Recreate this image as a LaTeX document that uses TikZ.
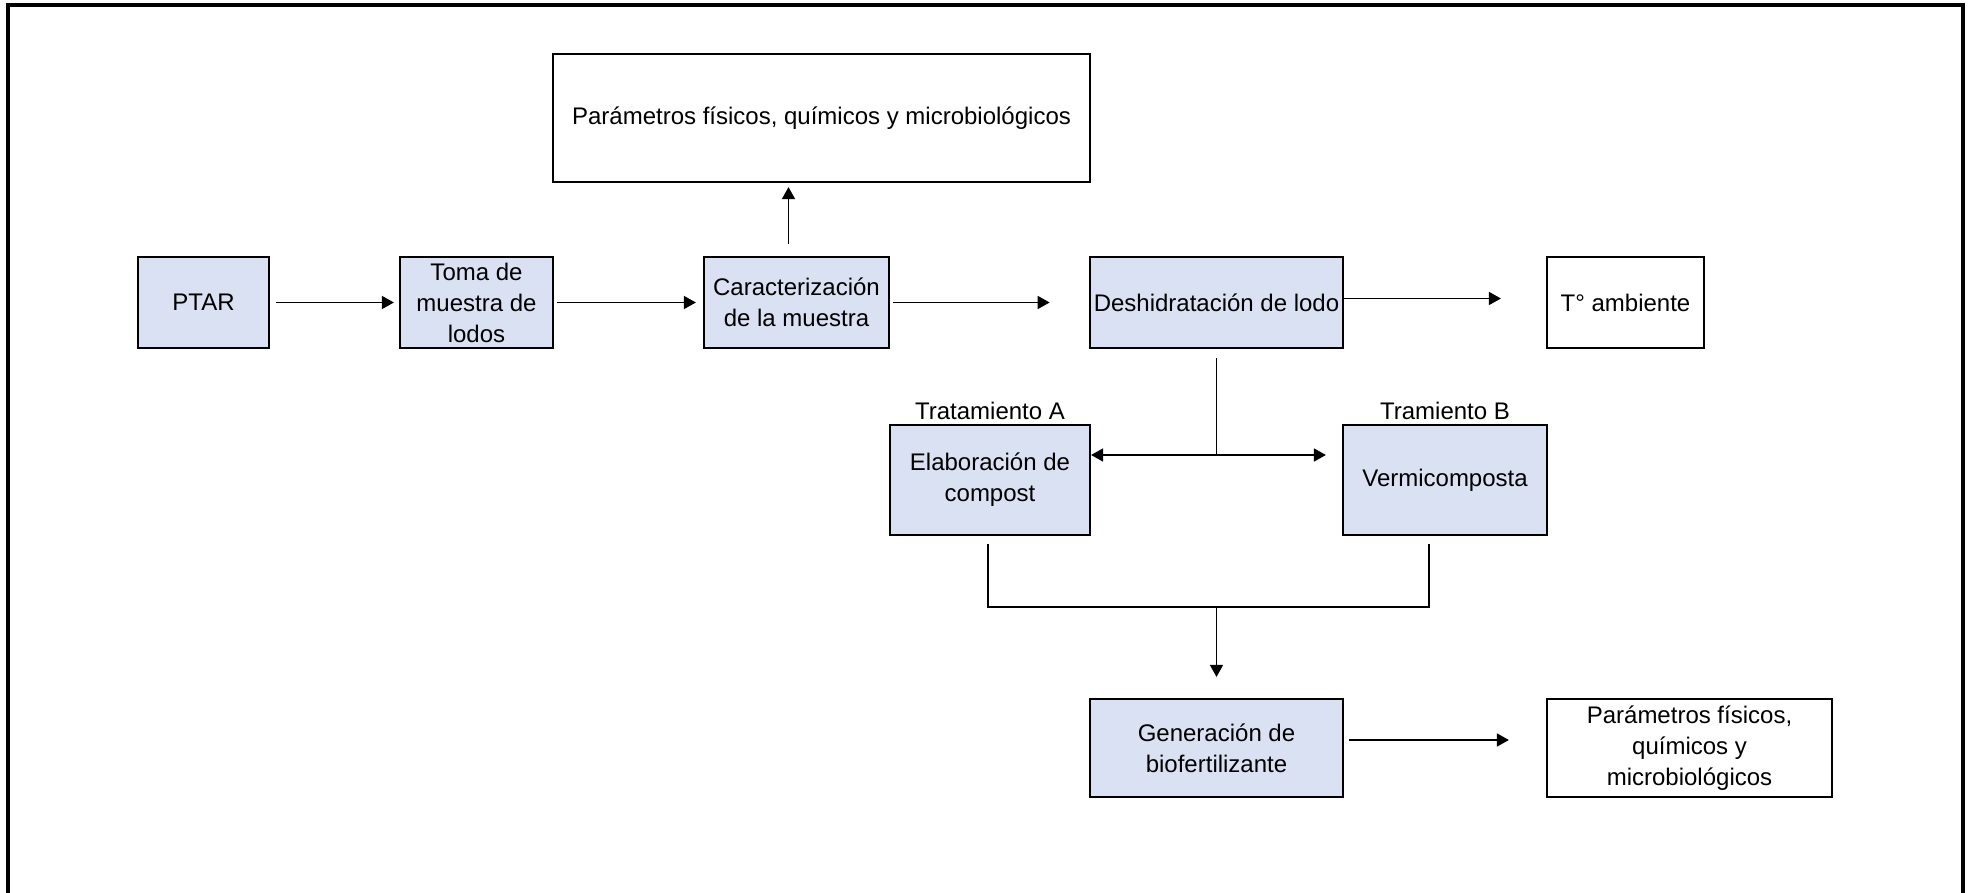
\documentclass[tikz,border=0pt]{standalone}
\usepackage{fontspec}
\setmainfont{Liberation Sans}
\usetikzlibrary{positioning,arrows.meta}
\definecolor{boxblue}{RGB}{218,225,242}

\begin{document}
\begin{tikzpicture}[
        x=0.5pt, y=-0.5pt,
        >={Triangle[length=6pt,width=6.5pt]},
        every node/.style={font=\fontsize{12}{15.5}\selectfont, align=center},
        stage/.style={draw, line width=1.1pt, fill=boxblue, inner sep=2pt},
        result/.style={draw, line width=1.1pt, fill=white, inner sep=2pt},
        flow/.style={->, line width=0.8pt},
        link/.style={line width=0.8pt},
      ]
      \useasboundingbox (0,0) rectangle (1972,893);
      % Frame
      \draw[line width=1.6pt] (8,893) -- (8,5) -- (1963,5) -- (1963,893);

      % Top row
      \node[stage, minimum width=65.5pt, minimum height=45.5pt] (ptar) at (203.5,302.5) {PTAR};
      \node[stage, minimum width=76.5pt, minimum height=45.5pt] (toma) at (476.5,302.5) {Toma de\\muestra de\\lodos};
      \node[stage, minimum width=92.5pt, minimum height=45.5pt] (caract) at (796.5,302.5) {Caracterización\\de la muestra};
      \node[stage, minimum width=126.5pt, minimum height=45.5pt] (deshid) at (1216.5,302.5) {Deshidratación de lodo};
      \node[result, minimum width=78.5pt, minimum height=45.5pt] (tamb) at (1625.5,302.5) {T° ambiente};
      \node[result, minimum width=268.5pt, minimum height=64pt] (partop) at (821.5,118) {Parámetros físicos, químicos y microbiológicos};

      % Treatments
      \node[stage, minimum width=100pt, minimum height=55pt] (elab) at (990,480) {Elaboración de\\compost};
      \node[stage, minimum width=102pt, minimum height=55pt] (verm) at (1445,480) {Vermicomposta};
      \node[above=1pt of elab, inner sep=1pt] (tratA) {Tratamiento A};
      \node[above=1pt of verm, inner sep=1pt] (tratB) {Tramiento B};

      % Bottom row
      \node[stage, minimum width=126.5pt, minimum height=49pt] (gen) at (1216.5,748) {Generación de\\biofertilizante};
      \node[result, minimum width=142.5pt, minimum height=49pt] (parbot) at (1689.5,748) {Parámetros físicos,\\químicos y\\microbiológicos};

      \coordinate (split) at (1216.5,455);
      \coordinate (join) at (1218,607);

      % Connectors
      \draw[flow, shorten <=3pt, shorten >=2.5pt] (ptar) -- (toma);
      \draw[flow, shorten <=1.5pt, shorten >=3.5pt] (toma) -- (caract);
      \draw[flow, shorten <=1.5pt, shorten >=19.5pt] (caract) -- (deshid);
      \draw[flow, shorten >=22.5pt] ([yshift=2pt]deshid.east) -- ([yshift=2pt]tamb.west);
      \draw[flow, shorten <=6pt, shorten >=2pt] ([xshift=-4pt]caract.north) -- ([xshift=-4pt]caract.north |- partop.south);
      \draw[link, shorten <=4.5pt] (deshid) -- (split);
      \draw[<->, line width=0.8pt, shorten >=8pt] (elab.east |- split) -- (verm.west |- split);
      \draw[link, shorten <=4pt] ([xshift=-1pt]elab.south) |- (join);
      \draw[link, shorten <=4pt] ([xshift=-8pt]verm.south) |- (join);
      \draw[flow, shorten >=10.5pt] (join) -- (join -| gen.north) -- (gen);
      \draw[flow, shorten <=2.5pt, shorten >=18.5pt] ([yshift=4pt]gen.east) -- ([yshift=4pt]parbot.west);
    \end{tikzpicture}
\end{document}
